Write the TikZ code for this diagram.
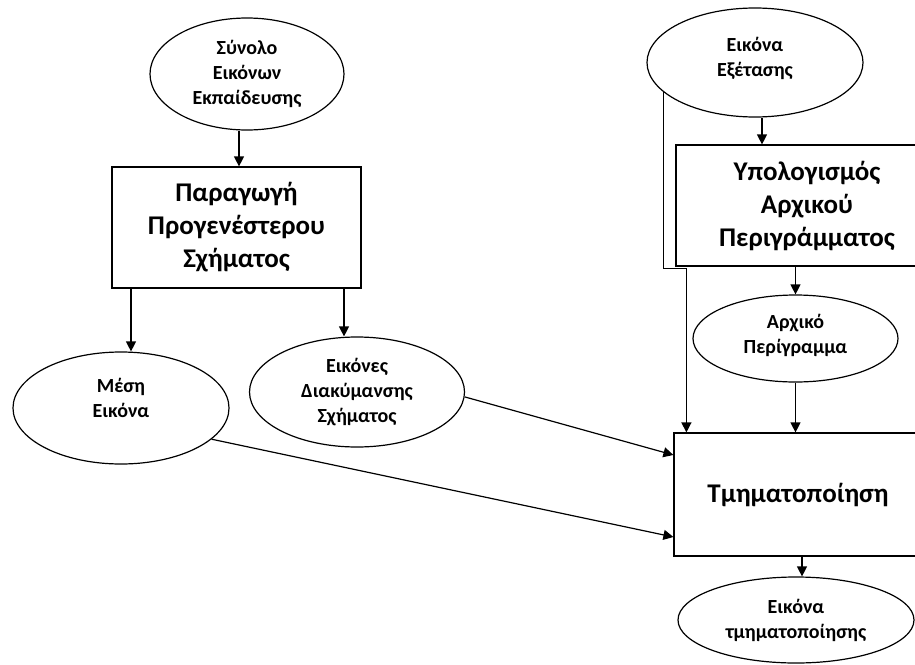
\documentclass[tikz,border=0pt]{standalone}
\usepackage{fontspec}
\setmainfont{Carlito}
\usetikzlibrary{shapes.geometric,arrows.meta}
\newcommand{\liftup}[2]{\raisebox{#1}[\height][\depth]{\begin{tabular}{@{}c@{}}#2\end{tabular}}}
\begin{document}
\begin{tikzpicture}[x=1pt,y=-1pt,
  oval/.style={ellipse,draw,line width=1.2pt,inner sep=0pt,align=center,font=\fontsize{20}{25}\selectfont\bfseries},
  boxn/.style={rectangle,draw,line width=1.2pt,inner sep=0pt,align=center,font=\fontsize{27}{33}\selectfont\bfseries},
  arr/.style={line width=1.2pt,-{Triangle[length=10pt,width=10pt]}}]
\useasboundingbox (0,0) rectangle (915,664);
\clip (0,0) rectangle (915,664);
% nodes
\node[oval,minimum width=194pt,minimum height=112pt] (s1) at (247,74) {Σύνολο\\Εικόνων\\Εκπαίδευσης};
\node[boxn,minimum width=249pt,minimum height=121pt] (b1) at (236.5,227.5) {Παραγωγή\\Προγενέστερου\\Σχήματος};
\node[oval,minimum width=216pt,minimum height=112pt] (m) at (121,408) {\liftup{8pt}{Μέση\\Εικόνα}};
\node[oval,minimum width=215pt,minimum height=110pt] (d) at (357,392) {Εικόνες\\Διακύμανσης\\Σχήματος};
\node[oval,minimum width=216pt,minimum height=109pt] (e) at (755,62.5) {\liftup{4pt}{Εικόνα\\Εξέτασης}};
\node[boxn,minimum width=262pt,minimum height=121pt] (u) at (807,205.5) {Υπολογισμός\\Αρχικού\\Περιγράμματος};
\node[oval,minimum width=205pt,minimum height=87pt] (a) at (795.5,338.5) {\liftup{3pt}{Αρχικό\\Περίγραμμα}};
\node[boxn,minimum width=248pt,minimum height=123pt] (t) at (798,494.5) {Τμηματοποίηση};
\node[oval,minimum width=236pt,minimum height=86pt] (r) at (796,620) {Εικόνα\\τμηματοποίησης};
% connectors
\draw[arr] ([xshift=-8pt]s1.south) -- ([xshift=-8pt]s1.south |- b1.north);
\draw[arr] ([xshift=10pt]m.north |- b1.south) -- ([xshift=10pt]m.north);
\draw[arr] ([xshift=-13pt]d.north |- b1.south) -- ([xshift=-13pt]d.north);
\draw[arr] ([yshift=-5pt]d.east) -- ([yshift=39.5pt]t.west);
\draw[arr] (m.-19) -- ([yshift=-42.5pt]t.west);
\draw[arr] ([xshift=7pt]e.south) -- ([xshift=7pt]e.south |- u.north);
\draw[arr] (e.198) -- ++(0,176) -| ([xshift=13pt]t.north west);
\draw[arr] (a.north |- u.south) -- (a.north);
\draw[arr] (a.south) -- (a.south |- t.north);
\draw[arr] ([xshift=6pt]r.north |- t.south) -- ([xshift=6pt]r.north);
\end{tikzpicture}
\end{document}
